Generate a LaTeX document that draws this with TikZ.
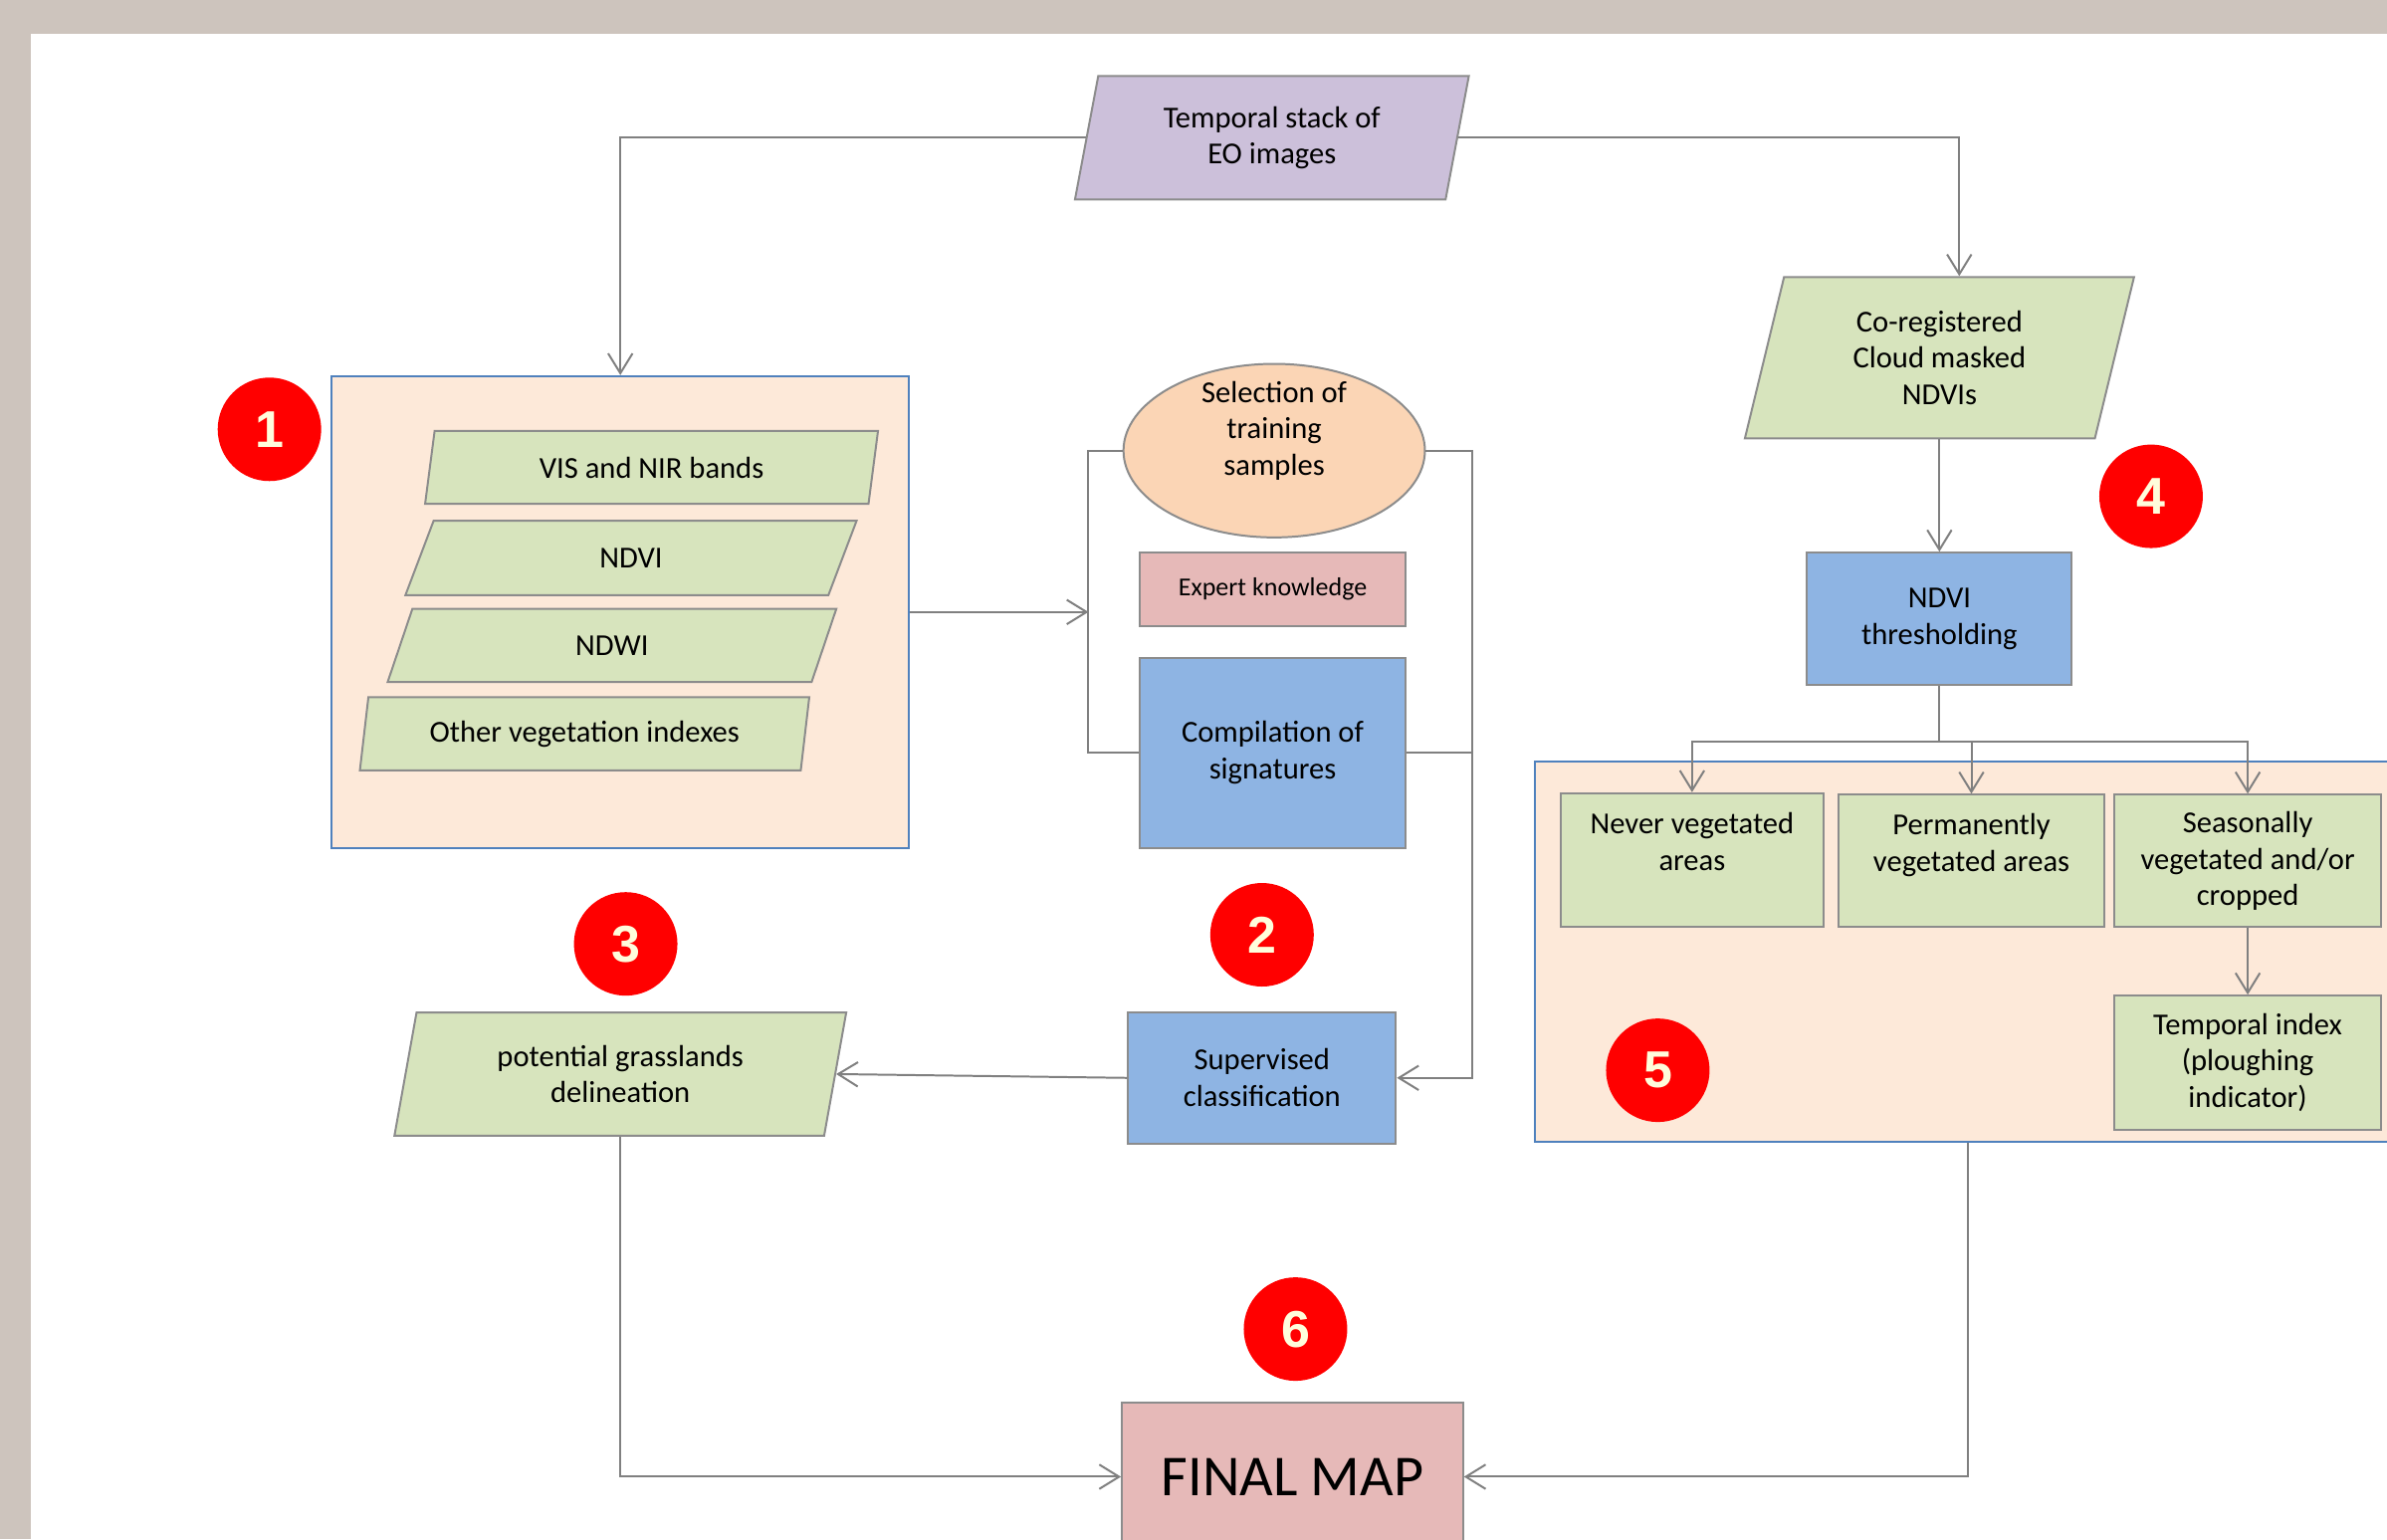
\documentclass[tikz,border=0pt]{standalone}
\usepackage{fontspec}
\setmainfont{Carlito}
\newfontfamily\badgefont{Liberation Sans}
\usetikzlibrary{shapes.geometric,arrows.meta,calc}
\definecolor{bggray}{RGB}{205,196,189}
\definecolor{lav}{RGB}{204,192,218}
\definecolor{grn}{RGB}{215,228,189}
\definecolor{peach}{RGB}{253,233,217}
\definecolor{orng}{RGB}{251,213,181}
\definecolor{pinkb}{RGB}{230,185,184}
\definecolor{blueb}{RGB}{142,180,227}
\definecolor{edgegray}{RGB}{140,140,140}
\definecolor{contblue}{RGB}{79,129,189}
\definecolor{wiregray}{RGB}{128,128,128}
\definecolor{cream}{RGB}{255,253,220}
\begin{document}
\begin{tikzpicture}[x=1pt,y=-1pt,
  txt/.style={font=\fontsize{20}{24}\selectfont, align=center, text=black},
  para/.style={trapezium, trapezium stretches=true, trapezium left angle=77, trapezium right angle=103,
     draw=edgegray, line width=1.3pt, fill=grn, txt, inner sep=0pt},
  boxr/.style={rectangle, draw=edgegray, line width=1.3pt, txt, inner sep=0pt},
  contbox/.style={rectangle, draw=contblue, line width=1.2pt, fill=peach, inner sep=0pt},
  badge/.style={circle, fill=red, minimum size=68pt, inner sep=0pt, text=cream,
     font=\badgefont\bfseries\fontsize{34}{34}\selectfont},
  wire/.style={draw=wiregray, line width=1.3pt},
  arrowline/.style={wire, -{Straight Barb[length=13pt,width=16pt,line width=1.3pt]}}
]
\useasboundingbox (0,0) rectangle (1568,1011);
\fill[bggray] (0,0) rectangle (1568,1011);
\fill[white] (20,22) rectangle (1568,1011);

% containers
\node[contbox, minimum width=379pt, minimum height=310pt] (b1) at (407.5,402) {};
\node[contbox, minimum width=570pt, minimum height=250pt] (b5) at (1293,625) {};

% top
\node[para, fill=lav, minimum width=259pt, minimum height=81pt] (tsk) at (835.5,90.5) {Temporal stack of\\EO images};

% group 1
\node[para, minimum width=298pt, minimum height=48pt] (vis) at (428,307) {VIS and NIR bands};
\node[para, minimum width=297pt, minimum height=49pt] (ndvi) at (414.5,366.5) {NDVI};
\node[para, minimum width=296pt, minimum height=48pt] (ndwi) at (402,424) {NDWI};
\node[para, minimum width=296pt, minimum height=48pt] (oth) at (384,482) {Other vegetation indexes};

% group 2
\node[ellipse, draw=edgegray, fill=orng, line width=1.3pt, minimum width=198pt, minimum height=114pt] (sel) at (837,296) {};
\node[txt] (selt) at (837,283) {Selection of\\training\\samples};
\node[boxr, fill=pinkb, minimum width=174pt, minimum height=48pt, font=\fontsize{17}{20}\selectfont] (exp) at (836,387) {Expert knowledge};
\node[boxr, fill=blueb, minimum width=174pt, minimum height=125pt] (comp) at (836,494.5) {Compilation of\\signatures};
\node[boxr, fill=blueb, minimum width=176pt, minimum height=86pt] (sup) at (829,708) {Supervised\\classification};

% group 3
\node[para, minimum width=297pt, minimum height=81pt] (pot) at (407.5,705.5) {potential grasslands\\delineation};

% right side
\node[para, minimum width=256pt, minimum height=106pt] (cor) at (1274,235) {Co-registered\\Cloud masked\\NDVIs};
\node[boxr, fill=blueb, minimum width=174pt, minimum height=87pt] (thr) at (1274,406.5) {NDVI\\thresholding};
\node[boxr, fill=grn, minimum width=173pt, minimum height=88pt] (nev) at (1111.5,565) {Never vegetated\\areas\\~};
\node[boxr, fill=grn, minimum width=174pt, minimum height=87pt] (per) at (1295,565.5) {Permanently\\vegetated areas\\~};
\node[boxr, fill=grn, minimum width=175pt, minimum height=87pt] (sea) at (1476.5,565.5) {Seasonally\\vegetated and/or\\cropped};
\node[boxr, fill=grn, minimum width=175pt, minimum height=88pt] (tmp) at (1476.5,698) {Temporal index\\(ploughing\\indicator)};

% final
\node[boxr, fill=pinkb, minimum width=224pt, minimum height=98pt, font=\fontsize{38}{44}\selectfont] (fm) at (849,970) {FINAL MAP};

% badges
\node[badge] (n1) at (177,282) {1};
\node[badge] (n2) at (829,614) {2};
\node[badge] (n3) at (411,620) {3};
\node[badge] (n4) at (1413,326) {4};
\node[badge] (n5) at (1089,703) {5};
\node[badge] (n6) at (851,873) {6};

% helper coordinates
\coordinate (brL) at (715,296);
\coordinate (brR) at (967,296);
\coordinate (jn) at (1274,487);

% connectors
\draw[arrowline] (tsk.left side) -| (b1.north);
\draw[arrowline] (tsk.right side) -| (cor.top side);
\draw[arrowline] (b1.east) -- (b1.east -| brL);
\draw[wire] (sel.west) -- (brL) |- (comp.west);
\draw[wire] (sel.east) -- (brR) -- (brR |- comp.east);
\draw[arrowline] (comp.east) -- (comp.east -| brR) |- (sup.east);
\draw[arrowline] (sup.west) -- (pot.right side);
\draw[arrowline] (pot.center |- pot.bottom side) |- (fm.west);
\draw[arrowline] (cor.center |- cor.bottom side) -- (thr.north);
\draw[wire] (thr.south) -- (jn);
\draw[arrowline] (jn) -| (nev.north);
\draw[arrowline] (jn) -| (per.north);
\draw[arrowline] (jn) -| (sea.north);
\draw[arrowline] (sea.south) -- (tmp.north);
\draw[arrowline] (b5.south) |- (fm.east);
\end{tikzpicture}
\end{document}
